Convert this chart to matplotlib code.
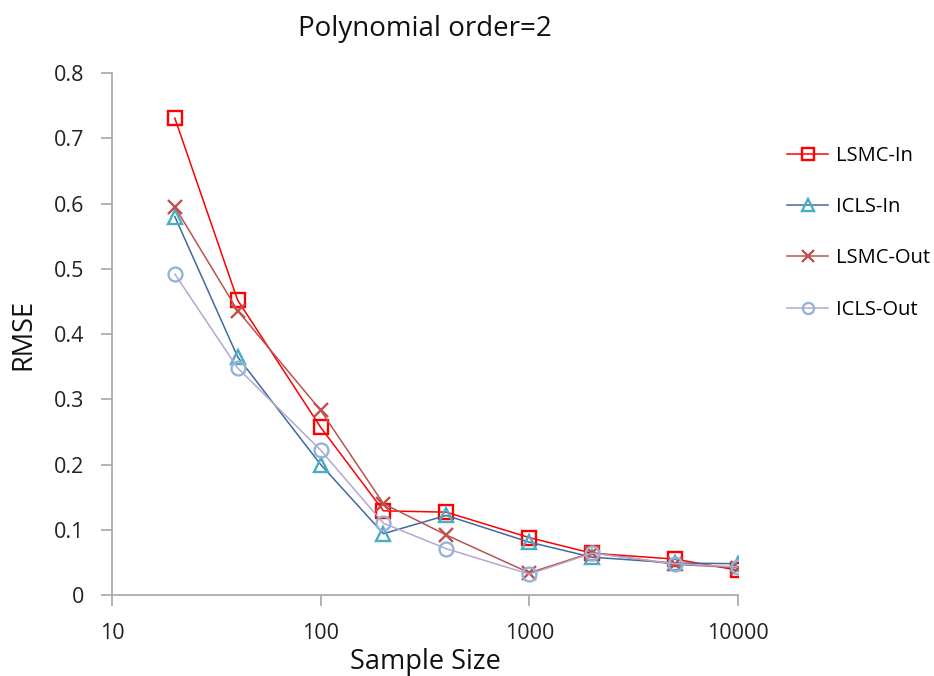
import matplotlib
matplotlib.use("Agg")
import matplotlib.pyplot as plt
import matplotlib.ticker as mticker

plt.rcParams['font.family'] = ['Open Sans', 'DejaVu Sans']

sample_size = [20, 40, 100, 200, 400, 1000, 2000, 5000, 10000]
lsmc_in = [0.731, 0.452, 0.257, 0.129, 0.127, 0.088, 0.064, 0.055, 0.038]
icls_in = [0.580, 0.365, 0.200, 0.094, 0.122, 0.081, 0.058, 0.049, 0.048]
lsmc_out = [0.595, 0.436, 0.283, 0.140, 0.092, 0.034, 0.065, 0.047, 0.042]
icls_out = [0.492, 0.348, 0.222, 0.110, 0.071, 0.032, 0.064, 0.048, 0.043]

series = [
    ("LSMC-In", lsmc_in, "#FF0000", "#FF0000", "s"),
    ("ICLS-In", icls_in, "#3E6A9E", "#4BACC6", "^"),
    ("LSMC-Out", lsmc_out, "#B85450", "#C0504D", "x"),
    ("ICLS-Out", icls_out, "#B3A8CF", "#95B3D7", "o"),
]

fig = plt.figure(figsize=(9.34, 6.76), dpi=100)
ax = fig.add_axes([0.1199, 0.1198, 0.6702, 0.7722])

for name, vals, lc, mc, mk in series:
    ax.plot(sample_size, vals, color=lc, lw=1.1, marker=mk, markersize=10,
            markerfacecolor='none', markeredgecolor=mc, markeredgewidth=1.7,
            label=name)

ax.set_xscale('log')
ax.set_xlim(10, 10000)
ax.set_ylim(0, 0.8)
ax.set_yticks([0, 0.1, 0.2, 0.3, 0.4, 0.5, 0.6, 0.7, 0.8])
ax.yaxis.set_major_formatter(mticker.FuncFormatter(lambda v, p: '0' if v == 0 else f'{v:g}'))
ax.set_xticks([10, 100, 1000, 10000])
ax.xaxis.set_major_formatter(mticker.FuncFormatter(lambda v, p: f'{int(v)}'))
ax.xaxis.set_minor_locator(mticker.NullLocator())

for s in ['top', 'right']:
    ax.spines[s].set_visible(False)
for s in ['left', 'bottom']:
    ax.spines[s].set_color('#A6A6A6')
    ax.spines[s].set_linewidth(1.2)
ax.tick_params(axis='both', colors='#A6A6A6', length=8, width=1.2, direction='out',
               labelcolor='#222222', labelsize=15.5)
ax.tick_params(axis='x', pad=12)
ax.tick_params(axis='y', pad=12)

ax.set_title('Polynomial order=2', fontsize=20, pad=27, color='#111111')
ax.set_xlabel('Sample Size', fontsize=19.5, labelpad=3, color='#111111')
ax.set_ylabel('RMSE', fontsize=19.5, labelpad=12, color='#111111')

ax.legend(loc='upper left', bbox_to_anchor=(1.05, 0.895), frameon=False,
          fontsize=14.5, labelspacing=1.55, handlelength=2.0, handletextpad=0.4,
          markerscale=0.8)

fig.savefig('out.png', dpi=100)
